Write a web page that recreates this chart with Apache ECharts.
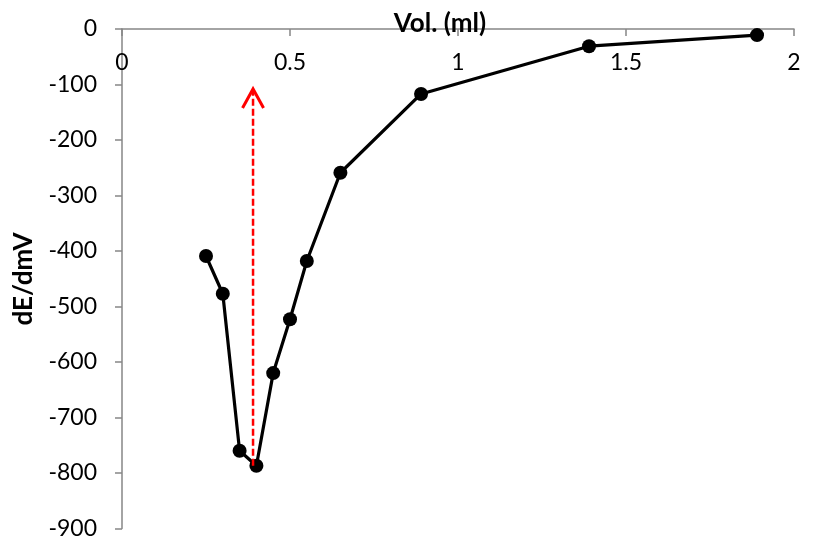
<!DOCTYPE html>
<html>
<head>
<meta charset="utf-8">
<script src="https://cdn.jsdelivr.net/npm/echarts@6/dist/echarts.min.js"></script>
<style>
  html, body { margin: 0; padding: 0; background: #fff; }
  #chart { width: 821px; height: 542px; }
</style>
</head>
<body>
<div id="chart"></div>
<script>
// Titrant volume (ml) and first derivative dE/dmV
var volume = [0.25, 0.30, 0.35, 0.40, 0.45, 0.50, 0.55, 0.65, 0.89, 1.39, 1.89];
var dEdV   = [-409, -477, -760, -787, -620, -523, -418, -259, -117, -31, -11];

// Equivalence-point marker: x position, lower and upper ends
var endpointX = [0.39];
var endpointFrom = [-787];
var endpointTo = [-108];

var xTicks = [0, 0.5, 1, 1.5, 2];
var yTicks = [0, -100, -200, -300, -400, -500, -600, -700, -800, -900];

var font = 'Lato, "Open Sans", sans-serif';
var axisGray = '#868686';

var chart = echarts.init(document.getElementById('chart'), null, { renderer: 'canvas' });

var arrowData = endpointX.map(function (x, i) { return [x, endpointFrom[i], endpointTo[i]]; });

chart.setOption({
  animation: false,
  backgroundColor: '#fff',
  grid: { left: 122, right: 27, top: 29, bottom: 13.5, containLabel: false },
  xAxis: {
    type: 'value',
    position: 'top',
    min: xTicks[0],
    max: xTicks[xTicks.length - 1],
    interval: 0.5,
    splitLine: { show: false },
    axisLine: { show: true, onZero: false, lineStyle: { color: axisGray, width: 1.5 } },
    axisTick: { show: true, inside: true, length: 7, lineStyle: { color: axisGray, width: 1.5 } },
    axisLabel: {
      inside: true, margin: 22, color: '#000', fontSize: 23, fontFamily: font,
      formatter: function (v) { return String(v); }
    }
  },
  yAxis: {
    type: 'value',
    min: yTicks[yTicks.length - 1],
    max: yTicks[0],
    interval: 100,
    splitLine: { show: false },
    axisLine: { show: true, onZero: false, lineStyle: { color: axisGray, width: 1.5 } },
    axisTick: { show: true, inside: false, length: 7, lineStyle: { color: axisGray, width: 1.5 } },
    axisLabel: { margin: 25, color: '#000', fontSize: 23, fontFamily: font }
  },
  graphic: [
    {
      type: 'text', x: 440, y: 24, z: 10,
      style: { text: 'Vol. (ml)', fill: '#000', font: 'bold 26px ' + font, align: 'center', verticalAlign: 'middle' }
    },
    {
      type: 'text', x: 24, y: 279, rotation: Math.PI / 2, z: 10,
      style: { text: 'dE/dmV', fill: '#000', font: 'bold 26px ' + font, align: 'center', verticalAlign: 'middle' }
    }
  ],
  series: [
    {
      type: 'line',
      data: volume.map(function (v, i) { return [v, dEdV[i]]; }),
      symbol: 'circle',
      symbolSize: 14,
      lineStyle: { color: '#000', width: 3.2 },
      itemStyle: { color: '#000' },
      z: 2
    },
    {
      type: 'custom',
      data: arrowData,
      z: 5,
      renderItem: function (params, api) {
        var p0 = api.coord([api.value(0), api.value(1)]);
        var p1 = api.coord([api.value(0), api.value(2)]);
        return {
          type: 'group',
          children: [
            {
              type: 'line',
              shape: { x1: p0[0], y1: p0[1], x2: p1[0], y2: p1[1] + 2 },
              style: { stroke: '#ff0000', lineWidth: 2.5, lineDash: [7, 3] }
            },
            {
              type: 'polyline',
              shape: { points: [[p1[0] - 10.5, p1[1] + 19], [p1[0], p1[1]], [p1[0] + 10.5, p1[1] + 19]] },
              style: { stroke: '#ff0000', lineWidth: 3, fill: null, lineJoin: 'miter' }
            }
          ]
        };
      }
    }
  ]
});
</script>
</body>
</html>
